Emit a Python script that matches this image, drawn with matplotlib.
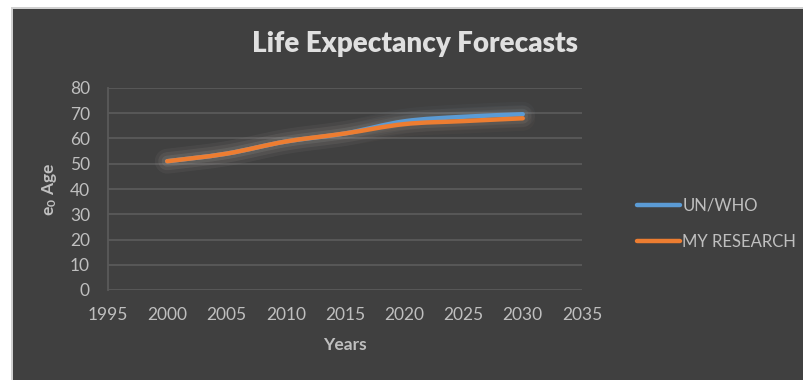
import matplotlib
matplotlib.use("Agg")
import matplotlib.pyplot as plt
from matplotlib import font_manager
from matplotlib.path import Path
from matplotlib.patches import PathPatch, Rectangle
import numpy as np

# --- data -------------------------------------------------------------
years = [2000, 2005, 2010, 2015, 2020, 2025, 2030]
un_who = [51.0, 54.0, 58.8, 62.0, 66.8, 68.6, 69.6]
my_research = [51.0, 54.0, 58.8, 62.0, 65.7, 66.9, 68.0]
series_names = ["UN/WHO", "MY RESEARCH"]
x_ticks = [1995, 2000, 2005, 2010, 2015, 2020, 2025, 2030, 2035]
y_ticks = [0, 10, 20, 30, 40, 50, 60, 70, 80]

# --- style ------------------------------------------------------------
available = {f.name for f in font_manager.fontManager.ttflist}
family = next((f for f in ["Lato", "Open Sans"] if f in available), "DejaVu Sans")
plt.rcParams["font.family"] = [family, "DejaVu Sans"]
plt.rcParams["mathtext.fontset"] = "custom"
plt.rcParams["mathtext.rm"] = family
plt.rcParams["mathtext.bf"] = family + ":bold"

BG = "#404040"
GRID = "#5a5a5a"
TEXT = "#bfbfbf"
BLUE = "#5b9bd5"
ORANGE = "#ed7d31"

W, H = 804, 380
fig = plt.figure(figsize=(W / 100, H / 100), dpi=100)
fig.patch.set_facecolor("white")

# chart frame
fig.add_artist(Rectangle((11 / W, 0), 1, 1 - 7 / H, transform=fig.transFigure,
                         facecolor="#d0d0d0", edgecolor="none", zorder=-20))
fig.add_artist(Rectangle((13 / W, 0), 1, 1 - 9 / H, transform=fig.transFigure,
                         facecolor=BG, edgecolor="none", zorder=-10))

ax = fig.add_axes([108 / W, (H - 290) / H, (582 - 108) / W, (290 - 88) / H])
ax.set_facecolor(BG)
ax.set_xlim(1995, 2035)
ax.set_ylim(0, 80)
ax.set_xticks(x_ticks)
ax.set_yticks(y_ticks)
ax.tick_params(length=0, colors=TEXT, labelsize=12.5)
ax.tick_params(axis="x", pad=12)
ax.tick_params(axis="y", pad=13)
ax.grid(axis="y", color=GRID, lw=1.3)
ax.set_axisbelow(True)
for s in ["top", "right", "bottom"]:
    ax.spines[s].set_visible(False)
ax.spines["left"].set_color(GRID)
ax.spines["left"].set_linewidth(1.3)


def smooth_path(xs, ys):
    """Cubic Bezier path through the points (Catmull-Rom style control points)."""
    pts = np.column_stack([xs, ys]).astype(float)
    n = len(pts)
    verts = [pts[0]]
    codes = [Path.MOVETO]
    for i in range(n - 1):
        p0 = pts[max(i - 1, 0)]
        p1 = pts[i]
        p2 = pts[i + 1]
        p3 = pts[min(i + 2, n - 1)]
        c1 = p1 + (p2 - p0) / 6.0
        c2 = p2 - (p3 - p1) / 6.0
        verts += [c1, c2, p2]
        codes += [Path.CURVE4] * 3
    return Path(verts, codes)


for vals, glow in [(un_who, "#8fb3d6"), (my_research, "#c9a27f")]:
    path = smooth_path(years, vals)
    for lw, a in [(18, 0.04), (13, 0.06), (8, 0.08)]:
        ax.add_patch(PathPatch(path, facecolor="none", edgecolor=glow, lw=lw,
                               alpha=a, capstyle="round", joinstyle="round", zorder=2))
for vals, color, name in [(un_who, BLUE, series_names[0]), (my_research, ORANGE, series_names[1])]:
    path = smooth_path(years, vals)
    ax.add_patch(PathPatch(path, facecolor="none", edgecolor=color, lw=3.2,
                           capstyle="round", joinstyle="round", zorder=3))
    ax.plot([], [], color=color, lw=3.2, solid_capstyle="round", label=name)

ax.set_xlabel("Years", color=TEXT, fontsize=12.5, fontweight="bold", labelpad=10)
ax.set_ylabel(r"$\mathbf{e_0}$ Age", color=TEXT, fontsize=12.5, fontweight="bold", labelpad=8)

fig.text(415 / W, 1 - 44 / H, "Life Expectancy Forecasts", color="#e0e0e0",
         fontsize=20, fontweight="heavy", ha="center", va="center")

fig.legend(loc="center left", bbox_to_anchor=(630 / W, 1 - 224 / H), frameon=False,
           labelcolor=TEXT, fontsize=12, handlelength=2.6, handletextpad=0.15,
           labelspacing=1.2, borderaxespad=0)

fig.savefig("out.png", dpi=100, facecolor=fig.get_facecolor())
